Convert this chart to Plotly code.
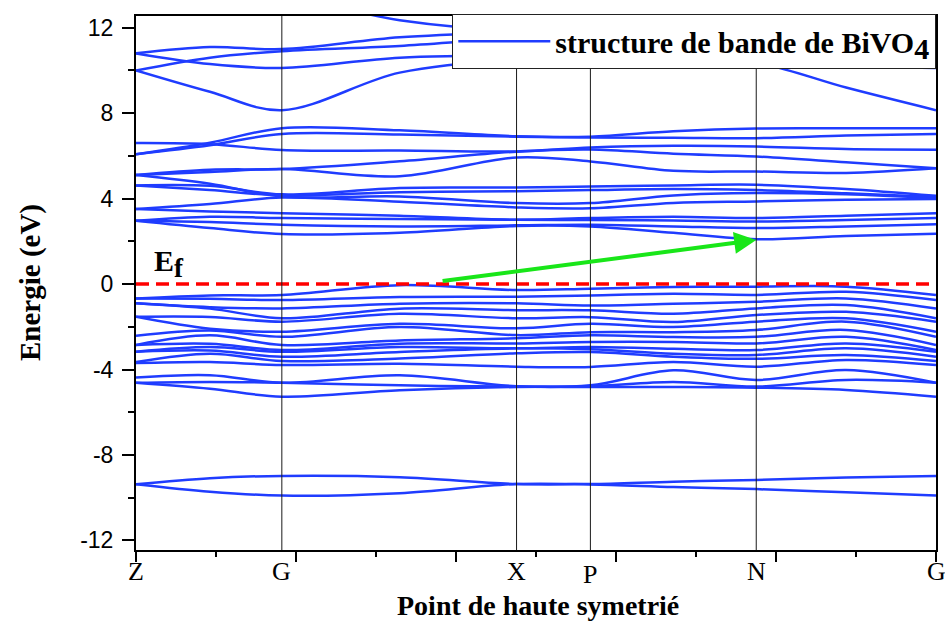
import plotly.graph_objects as go

# k-path coordinate of each sampled point (Z .. G .. X P .. N .. G)
kpath = [0.0, 0.0924, 0.1823, 0.3296, 0.4757, 0.568, 0.6717, 0.7753, 0.8876, 1.0]
sym_labels = ["Z", "G", "X", "P", "N", "G"]
sym_positions = [0.0, 0.1823, 0.4757, 0.568, 0.7753, 1.0]
energy_ticks = [-12, -8, -4, 0, 4, 8, 12]
energy_ticktext = ["-12", "-8", "-4", "0", "4", "8", "12"]

# upper conduction bands (eV)
cond_upper = [
    [10.80, 11.10, 11.00, 11.55, 11.80, 11.90, 11.80, 11.60, 11.30, 11.00],
    [10.00, 10.60, 10.90, 11.15, 11.50, 11.50, 11.20, 11.00, 10.90, 10.90],
    [10.80, 10.30, 10.12, 10.60, 10.70, 10.65, 10.60, 10.45, 10.25, 10.12],
    [10.00, 9.00, 8.14, 9.90, 10.50, 10.48, 10.47, 10.35, 9.20, 8.14],
    [13.50, 13.50, 13.50, 12.35, 11.90, 12.10, 12.20, 12.20, 12.10, 12.00],
]

# lower conduction bands (eV)
cond_lower = [
    [6.08, 6.62, 7.30, 7.20, 6.92, 6.90, 7.15, 7.28, 7.29, 7.30],
    [6.08, 6.50, 7.03, 7.00, 6.90, 6.86, 6.85, 6.83, 6.95, 7.03],
    [6.60, 6.55, 6.28, 6.25, 6.21, 6.39, 6.47, 6.44, 6.32, 6.29],
    [5.11, 5.35, 5.39, 5.75, 6.20, 6.30, 6.10, 5.97, 5.70, 5.42],
    [5.11, 5.25, 5.39, 5.05, 5.93, 5.74, 5.30, 5.27, 5.20, 5.42],
    [4.62, 4.60, 4.20, 4.50, 4.52, 4.57, 4.62, 4.65, 4.45, 4.13],
    [4.62, 4.40, 4.15, 4.30, 4.35, 4.40, 4.45, 4.40, 4.25, 4.08],
    [5.11, 4.70, 4.10, 4.10, 3.79, 3.79, 4.15, 4.26, 4.20, 4.02],
    [3.52, 3.75, 4.05, 3.85, 3.59, 3.55, 3.80, 3.87, 3.95, 3.98],
    [3.52, 3.40, 3.32, 3.20, 3.01, 3.09, 3.15, 3.09, 3.20, 3.32],
    [2.96, 3.15, 3.09, 3.05, 3.01, 3.00, 2.98, 2.93, 3.00, 3.09],
    [2.96, 2.90, 2.78, 2.70, 2.75, 2.78, 2.70, 2.62, 2.70, 2.80],
    [2.96, 2.62, 2.34, 2.40, 2.72, 2.70, 2.40, 2.10, 2.25, 2.35],
]

# valence bands (eV)
valence = [
    [-0.67, -0.53, -0.51, -0.05, -0.28, -0.22, -0.14, -0.12, -0.12, -0.51],
    [-0.67, -0.69, -0.75, -0.61, -0.59, -0.53, -0.45, -0.51, -0.36, -0.75],
    [-0.90, -1.08, -1.14, -0.92, -0.90, -1.00, -0.92, -0.83, -0.67, -1.14],
    [-0.90, -1.15, -1.60, -1.15, -1.22, -1.23, -1.39, -1.14, -0.98, -1.60],
    [-1.53, -1.54, -1.76, -1.39, -1.60, -1.55, -1.78, -1.45, -1.30, -1.76],
    [-1.53, -2.09, -2.23, -1.86, -2.07, -1.86, -2.01, -1.76, -1.60, -2.23],
    [-2.42, -2.17, -2.47, -2.01, -2.39, -2.25, -2.25, -2.15, -1.76, -2.47],
    [-2.85, -2.40, -2.85, -2.64, -2.54, -2.40, -2.48, -2.47, -2.15, -2.85],
    [-2.85, -2.79, -3.09, -2.79, -2.78, -2.71, -2.71, -2.78, -2.47, -3.09],
    [-3.17, -2.95, -3.17, -2.95, -3.01, -2.95, -3.03, -3.09, -2.78, -3.17],
    [-3.17, -3.11, -3.40, -3.18, -3.01, -3.05, -3.26, -3.32, -3.01, -3.40],
    [-3.65, -3.26, -3.60, -3.49, -3.24, -3.18, -3.40, -3.50, -3.32, -3.60],
    [-3.70, -3.65, -3.79, -3.73, -3.87, -3.88, -3.65, -3.87, -3.55, -3.79],
    [-4.38, -4.27, -4.62, -4.27, -4.78, -4.74, -4.04, -4.49, -4.02, -4.62],
    [-4.62, -4.58, -4.62, -4.74, -4.80, -4.78, -4.58, -4.80, -4.49, -4.62],
    [-4.62, -4.90, -5.27, -4.97, -4.82, -4.82, -4.82, -4.85, -4.96, -5.27],
]

# deep semicore bands (eV)
deep = [
    [-9.37, -9.09, -8.98, -9.04, -9.36, -9.36, -9.25, -9.17, -9.05, -8.98],
    [-9.37, -9.72, -9.90, -9.79, -9.36, -9.38, -9.50, -9.60, -9.75, -9.90],
]

# band-gap arrow: from valence maximum to conduction minimum
vbm_k, vbm_e = 0.3795, 0.12
cbm_k, cbm_e = 0.7753, 2.06

BLUE = "#1f3cff"
SERIF = "Liberation Serif"
SANS = "Liberation Sans"

fig = go.Figure()

all_bands = cond_upper + cond_lower + valence + deep
for i, band in enumerate(all_bands):
    fig.add_trace(go.Scatter(
        x=kpath, y=band, mode="lines",
        line=dict(color=BLUE, width=2.5, shape="spline", smoothing=1.0),
        name="structure de bande de BiVO<sub><span style='font-size:30px'>4</span></sub>",
        legendgroup="bands", showlegend=(i == 0), hoverinfo="skip",
    ))

# Fermi level
fig.add_trace(go.Scatter(
    x=[0, 1], y=[0, 0], mode="lines",
    line=dict(color="#ff0000", width=3.5, dash="13px,7px"),
    showlegend=False, hoverinfo="skip",
))

shapes = []
for kp in sym_positions[1:-1]:
    shapes.append(dict(type="line", xref="x", yref="paper", x0=kp, x1=kp, y0=0, y1=1,
                       line=dict(color="#1a1a1a", width=1), layer="above"))

annotations = []
for lab, kp in zip(sym_labels, sym_positions):
    annotations.append(dict(
        x=kp, y=0, xref="x", yref="paper", text=lab, showarrow=False,
        xanchor="center", yanchor="middle", yshift=-24 if lab == "P" else -21,
        font=dict(family=SERIF, size=26, color="black"),
    ))

annotations.append(dict(
    x=0.503, y=0, xref="paper", yref="paper", text="Point de haute symetrié",
    showarrow=False, xanchor="center", yanchor="middle", yshift=-55,
    font=dict(family=SERIF, size=28, color="black", weight="bold"),
))
annotations.append(dict(
    x=0, y=0.5, xref="paper", yref="paper", text="Energie (eV)", textangle=-90,
    showarrow=False, xanchor="center", yanchor="middle", xshift=-106,
    font=dict(family=SERIF, size=29, color="black", weight="bold"),
))
annotations.append(dict(
    x=0.02, y=0.95, xref="x", yref="y", text="E<sub><span style='font-size:27px'>f</span></sub>",
    showarrow=False, xanchor="left", yanchor="middle",
    font=dict(family=SERIF, size=30, color="black", weight="bold"),
))
annotations.append(dict(
    x=cbm_k, y=cbm_e, ax=vbm_k, ay=vbm_e, xref="x", yref="y", axref="x", ayref="y",
    showarrow=True, arrowhead=2, arrowsize=1.1, arrowwidth=4, arrowcolor="#19e619",
))

fig.update_layout(
    width=945, height=621,
    margin=dict(l=136, r=7, t=16, b=71),
    paper_bgcolor="white", plot_bgcolor="white",
    shapes=shapes, annotations=annotations,
    legend=dict(
        x=1, y=1.004, xanchor="right", yanchor="top",
        bgcolor="white", bordercolor="#222", borderwidth=1.3,
        font=dict(family=SERIF, size=30, color="black", weight="bold"),
        itemwidth=92, tracegroupgap=0,
    ),
    showlegend=True,
)

fig.update_xaxes(
    range=[0, 1], tickvals=[0, 0.2, 0.4, 0.6, 0.8, 1.0], showticklabels=False,
    ticks="outside", ticklen=10, tickwidth=2, tickcolor="black",
    minor=dict(dtick=0.1, ticks="outside", ticklen=5, tickwidth=2, tickcolor="black"),
    showline=True, linecolor="black", linewidth=2, mirror=True,
    showgrid=False, zeroline=False,
)
fig.update_yaxes(
    range=[-12.45, 12.55], tickvals=energy_ticks, ticktext=energy_ticktext,
    ticks="outside", ticklen=12, tickwidth=2, tickcolor="black",
    minor=dict(dtick=2, tick0=0, ticks="outside", ticklen=6, tickwidth=2, tickcolor="black"),
    showline=True, linecolor="black", linewidth=2, mirror=True,
    showgrid=False, zeroline=False, ticklabelstandoff=4,
    tickfont=dict(family=SANS, size=23, color="black"),
)

fig.write_html("out.html")
